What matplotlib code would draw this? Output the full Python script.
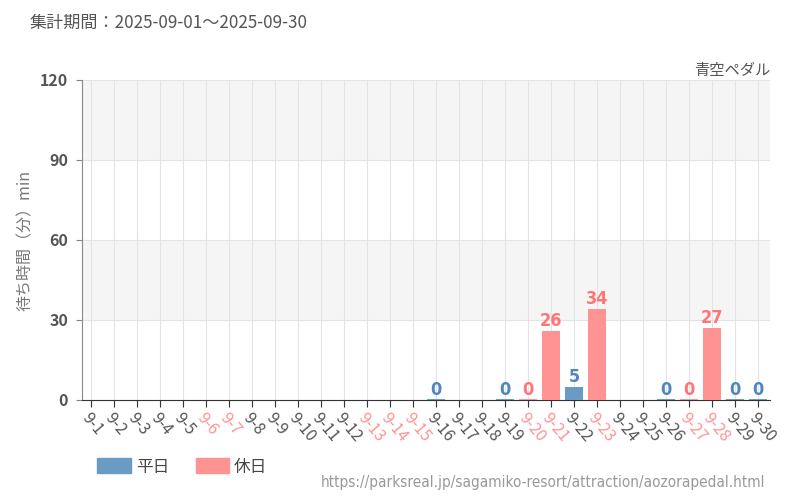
import matplotlib
matplotlib.use("Agg")
import matplotlib.pyplot as plt
from matplotlib.patches import Patch

plt.rcParams["font.family"] = ["Noto Sans CJK JP", "DejaVu Sans"]

day_labels = [f"9-{d}" for d in range(1, 31)]
# waiting time in minutes, None = no data
wait_minutes = [None, None, None, None, None, None, None, None, None, None,
                None, None, None, None, None, 0, None, None, 0, 0,
                26, 5, 34, None, None, 0, 0, 27, 0, 0]
holidays = ["9-6", "9-7", "9-13", "9-14", "9-15", "9-20", "9-21", "9-23",
            "9-27", "9-28"]
y_ticks = [0, 30, 60, 90, 120]

BLUE = "#6a9bc3"
RED = "#ff9393"
BLUE_TXT = "#4f86bd"
RED_TXT = "#ff7575"
GRAY_TXT = "#555555"

fig = plt.figure(figsize=(8, 5), dpi=100)
ax = fig.add_axes([0.1025, 0.2, 0.86, 0.64])

for lo in (30, 90):
    ax.axhspan(lo, lo + 30, color="#f5f5f5", zorder=0, lw=0)

x = range(len(day_labels))
for i, (label, v) in enumerate(zip(day_labels, wait_minutes)):
    if v is None:
        continue
    is_hol = label in holidays
    ax.bar(i, max(v, 0.5), width=0.82, color=RED if is_hol else BLUE,
           zorder=3)
    ax.text(i, v + 0.4, str(v), ha="center", va="bottom",
            color=RED_TXT if is_hol else BLUE_TXT, fontsize=13,
            family="DejaVu Sans", fontstretch="condensed",
            fontweight="bold", zorder=4)

ax.set_xlim(-0.39, 29.52)
ax.set_ylim(0, 120)
ax.set_yticks(y_ticks)
ax.set_yticklabels([str(t) for t in y_ticks], fontsize=11.5, color=GRAY_TXT,
                   fontweight="bold")
ax.set_xticks(list(x))
ax.set_xticklabels(day_labels, rotation=-50, ha="left", va="top",
                   rotation_mode="anchor", fontsize=11.5)
for lbl in ax.get_xticklabels():
    lbl.set_color(RED if lbl.get_text() in holidays else GRAY_TXT)

ax.grid(True, color="#e3e3e3", lw=0.8, zorder=1)
ax.set_axisbelow(True)
for s in ("top", "right"):
    ax.spines[s].set_visible(False)
ax.spines["left"].set_color("#888888")
ax.spines["bottom"].set_color("#333333")
ax.tick_params(axis="x", length=5, color="#333333", pad=2)
ax.tick_params(axis="y", length=4, color="#888888", pad=6)

ax.set_ylabel("待ち時間（分）min", fontsize=11.5, color="#777777", labelpad=4)

fig.text(0.0375, 0.955, "集計期間：2025-09-01～2025-09-30", fontsize=12.3,
         color=GRAY_TXT, va="center")
fig.text(0.9625, 0.86, "青空ペダル", fontsize=11, color=GRAY_TXT,
         ha="right", va="center")
fig.text(0.956, 0.036, "https://parksreal.jp/sagamiko-resort/attraction/aozorapedal.html",
         fontsize=11, color="#999999", ha="right", va="center",
         family="DejaVu Sans", fontstretch="condensed")

handles = [Patch(color=BLUE, label="平日"), Patch(color=RED, label="休日")]
fig.legend(handles=handles, loc="center left", bbox_to_anchor=(0.103, 0.066),
           ncol=2, frameon=False, fontsize=12, handlelength=2.0,
           handleheight=1.0, columnspacing=1.6, handletextpad=0.3,
           labelcolor="#444444")

fig.savefig("out.png", dpi=100)
